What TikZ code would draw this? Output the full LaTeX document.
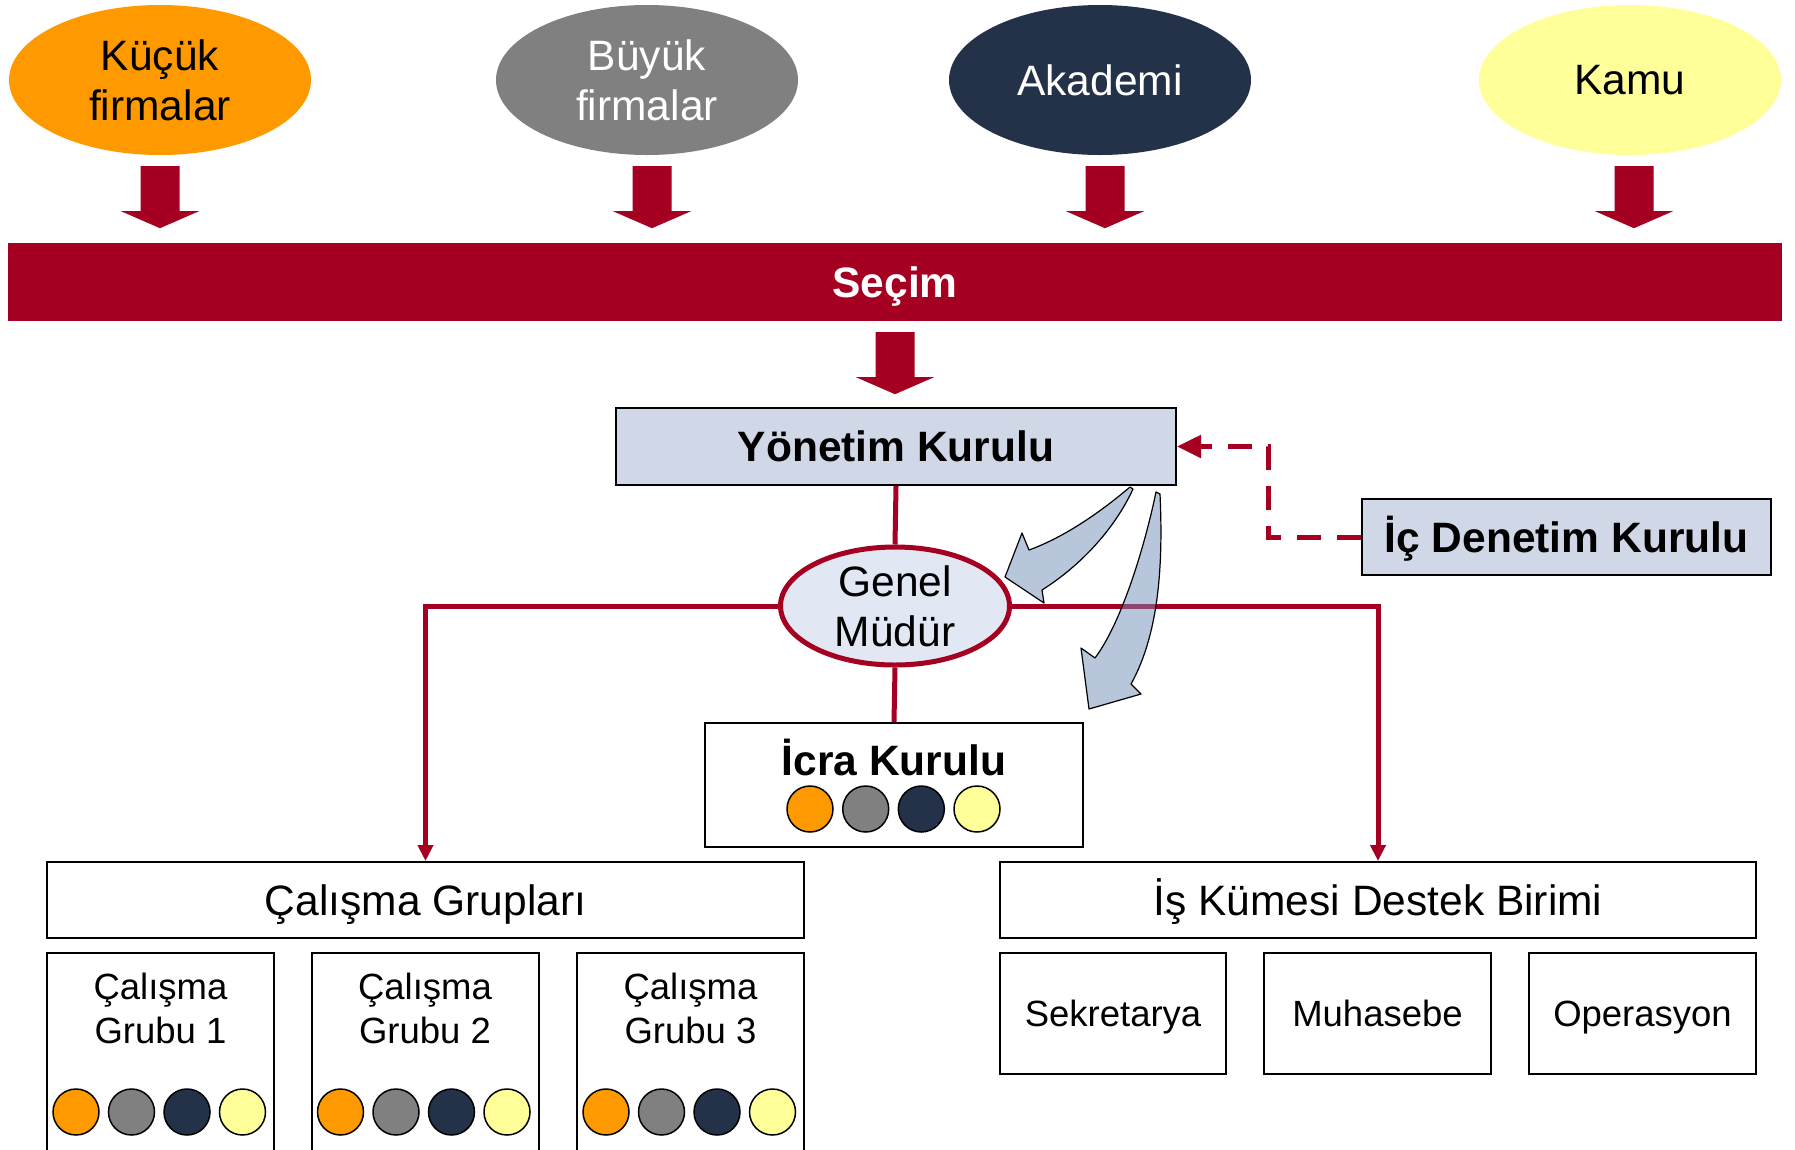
\documentclass[tikz,border=0pt]{standalone}
\usepackage{fontspec}
\setmainfont{Liberation Sans}
\usetikzlibrary{shapes.geometric,arrows.meta,calc}
\definecolor{secred}{HTML}{A50021}
\definecolor{korange}{HTML}{FF9900}
\definecolor{kgray}{HTML}{808080}
\definecolor{knavy}{HTML}{243249}
\definecolor{kyellow}{HTML}{FFFF99}
\definecolor{boxblue}{HTML}{D0D8E8}
\definecolor{gmfill}{HTML}{E2E8F3}
\definecolor{curvfill}{RGB}{115,143,187}
\begin{document}
\begin{tikzpicture}[x=1pt,y=-1pt,
  grp/.style={ellipse, minimum width=302pt, minimum height=150pt, inner sep=0pt, align=center, font=\fontsize{42.5}{50}\selectfont},
  fixtext/.style={text height=#1, text depth=0pt},
  plainbox/.style={draw=black, line width=2pt, fill=white, inner sep=0pt},
  bluebox/.style={draw=black, line width=2pt, fill=boxblue, inner sep=0pt},
  bigfont/.style={font=\fontsize{42.5}{50}\selectfont},
  boldfont/.style={font=\fontsize{42.5}{50}\selectfont\bfseries},
  smallfont/.style={font=\fontsize{36.5}{44}\selectfont},
  dot/.style={circle, draw=black, line width=1.5pt, minimum size=46pt, inner sep=0pt},
  redline/.style={draw=secred, line width=5pt},
  redtip/.style={-{Triangle[length=16pt,width=15pt]}},
  dashline/.style={draw=secred, line width=5pt, dash pattern=on 24pt off 16pt},
  curv/.style={fill=curvfill, fill opacity=0.5, draw=black, line width=1.2pt, line join=round}
]
\fill[white] (0,0) rectangle (1795,1149);
\useasboundingbox (0,0) rectangle (1795,1149);

% stakeholder ellipses
\node[grp, fill=korange, text=black] (kf) at (160,80) {Küçük\\firmalar};
\node[grp, fill=kgray, text=white] (bf) at (647,80) {Büyük\\firmalar};
\node[grp, fill=knavy, text=white] (ak) at (1100,80) {Akademi};
\node[grp, fill=kyellow, text=black] (km) at (1630,80) {Kamu};

% selection bar
\node[fill=secred, inner sep=0pt, minimum width=1774pt, minimum height=78pt, text=white, boldfont, fixtext=30.4pt] (secim) at (895,282) {Seçim};

% block arrows to the bar
\foreach \n/\dx in {kf/0,bf/5,ak/5,km/4}{
  \fill[secred] ($(\n.south)+(\dx-19.5,11)$) -- ++(39,0) -- ++(0,45) -- ++(19.5,0)
     -- ++(-39,17) -- ++(-39,-17) -- ++(19.5,0) -- cycle;
}
\fill[secred] ($(secim.south)+(-19.5,11)$) -- ++(39,0) -- ++(0,45) -- ++(19.5,0)
     -- ++(-39,17) -- ++(-39,-17) -- ++(19.5,0) -- cycle;

% board
\node[bluebox, minimum width=560pt, minimum height=77pt, boldfont, fixtext=30.4pt] (ym) at (896,446.5) {Yönetim Kurulu};
\node[bluebox, minimum width=409pt, minimum height=76pt, boldfont, fixtext=30.4pt] (idk) at (1566.5,537) {İç Denetim Kurulu};

% general manager
\node[ellipse, draw=secred, line width=5pt, fill=gmfill, minimum width=229pt, minimum height=118pt, inner sep=0pt, align=center, bigfont] (gm) at (895,606) {Genel\\Müdür};

% executive board
\node[plainbox, minimum width=378pt, minimum height=124pt] (icra) at (894,785) {};
\node[anchor=base, inner sep=0pt, boldfont] (icrat) at (894,775) {İcra Kurulu};
\foreach \x/\c [count=\i] in {810/korange,865.7/kgray,921.3/knavy,977/kyellow}
  \node[dot, fill=\c] (ic\i) at (\x,809) {};

% working groups
\node[plainbox, minimum width=757pt, minimum height=76pt, bigfont, fixtext=30.4pt] (cg) at (425.5,900) {Çalışma Grupları};
\foreach \cx/\k in {160.5/1,425/2,690.5/3}{
  \node[plainbox, minimum width=227pt, minimum height=199pt] (cg\k) at (\cx,1052.5) {};
  \node[anchor=north, inner sep=0pt, align=center, smallfont] (cgt\k) at (\cx,973) {Çalışma\\Grubu \k};
  \foreach \ox/\c [count=\j] in {-84.5/korange,-29/kgray,26.5/knavy,82/kyellow}
    \node[dot, fill=\c] (cgd\k\j) at (\cx+\ox,1112) {};
}

% support unit
\node[plainbox, minimum width=756pt, minimum height=76pt, bigfont, fixtext=30.4pt] (ik) at (1378,900) {İş Kümesi Destek Birimi};
\node[plainbox, minimum width=226pt, minimum height=121pt, smallfont, fixtext=26.1pt] (sek) at (1113,1013.5) {Sekretarya};
\node[plainbox, minimum width=227pt, minimum height=121pt, smallfont, fixtext=26.1pt] (muh) at (1377.5,1013.5) {Muhasebe};
\node[plainbox, minimum width=227pt, minimum height=121pt, smallfont, fixtext=26.1pt] (ops) at (1642.5,1013.5) {Operasyon};

% red connectors
\draw[redline] (ym.south) -- (gm.north);
\draw[redline] (gm.south) -- (icra.north);
\draw[redline, redtip] (gm.west) -| (cg.north);
\draw[redline, redtip] (gm.east) -| (ik.north);

% dashed audit connector
\draw[dashline, -{Triangle[length=24pt,width=22pt]}] (idk.west) -- ++(-93,0) |- (ym.east);

% curved delegation arrows
\path[curv] (1130,487) .. controls (1097,515) and (1062,538) .. (1029,550)
  -- (1022,533) -- (1005,577) -- (1044,603) -- (1042,590)
  .. controls (1080,566) and (1114,530) .. (1133,489) -- cycle;
\path[curv] (1156,492) .. controls (1145,545) and (1122,622) .. (1095,658)
  -- (1081,648) -- (1089,709) -- (1141,694) -- (1131,684)
  .. controls (1160,632) and (1163,560) .. (1160,494) -- cycle;
\end{tikzpicture}
\end{document}
